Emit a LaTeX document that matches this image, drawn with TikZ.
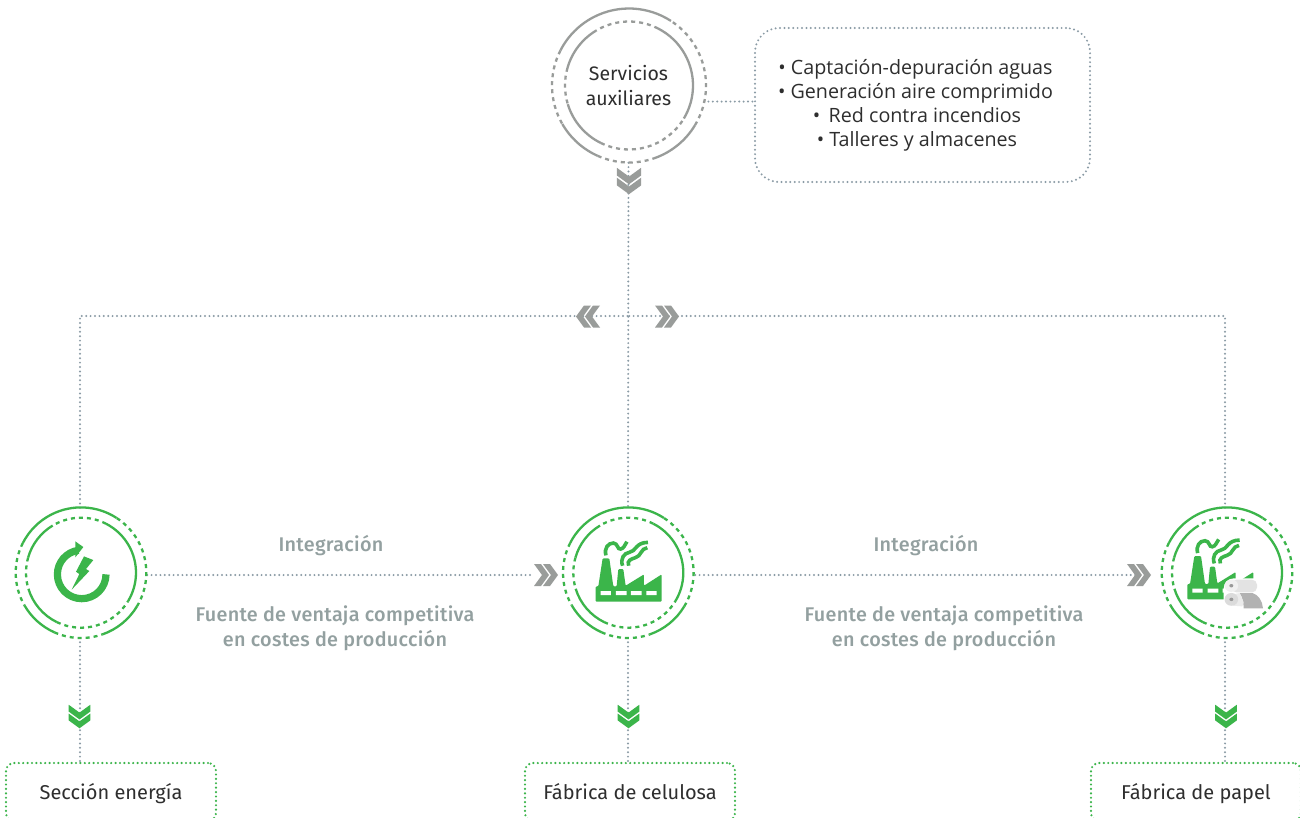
\documentclass[tikz,border=0pt]{standalone}
\usepackage{fontspec}
\setmainfont{Fira Sans}
\newfontfamily\listfont{Open Sans}
\newfontfamily\medfont[LetterSpace=1.5]{Fira Sans Medium}
\usetikzlibrary{calc}
\definecolor{gr}{HTML}{3BB54A}
\definecolor{gy}{HTML}{999C9A}
\definecolor{dotc}{HTML}{8A9BA5}
\definecolor{txt}{HTML}{2E2E2E}
\definecolor{soft}{HTML}{93A0A0}
\tikzset{
  dotgreen/.style={draw=gr,line width=2.4pt,line cap=round,dash pattern=on 0pt off 4.4pt},
  dotgrey/.style={draw=dotc,line width=2.2pt,line cap=round,dash pattern=on 0pt off 4.4pt},
  hub/.style={circle,minimum size=#1,inner sep=0pt},
  outbox/.style={dotgreen,rounded corners=8pt,minimum width=210pt,minimum height=58pt,inner sep=0pt,text=txt,text height=17pt,text depth=3pt,font=\fontsize{20}{24}\selectfont},
  softlabel/.style={text=soft,font=\medfont\fontsize{19.8}{25}\selectfont,align=center,inner sep=0pt},
}
% centre x, centre y, colour, outer r, inner r
\newcommand\ringset[5]{%
 \begin{scope}[shift={(#1,#2)},x=1pt,y=1pt,line width=2.3pt]
  \foreach \a/\b in {57/153,210/246,289/329}
    \draw[#3] ([shift={(\a:#4)}]0,0) arc[start angle=\a,end angle=\b,radius=#4];
  \foreach \a/\b in {153/210,246/289,329/417}
    \draw[#3,dash pattern=on 4pt off 4pt] ([shift={(\a:#4)}]0,0) arc[start angle=\a,end angle=\b,radius=#4];
  \foreach \a/\b in {-31/63,121/164,197/244}
    \draw[#3] ([shift={(\a:#5)}]0,0) arc[start angle=\a,end angle=\b,radius=#5];
  \foreach \a/\b in {63/121,164/197,244/329}
    \draw[#3,dash pattern=on 4pt off 4pt] ([shift={(\a:#5)}]0,0) arc[start angle=\a,end angle=\b,radius=#5];
 \end{scope}}
% x, y, rotation, colour, scale
\newcommand\dchev[5]{%
 \begin{scope}[shift={(#1,#2)},rotate=#3,scale=#5,x=1pt,y=1pt]
  \fill[#4] (-12,-11)--(-5,-11)--(3,0)--(-5,11)--(-12,11)--(-4,0)--cycle;
  \fill[#4] (-3,-11)--(4,-11)--(12,0)--(4,11)--(-3,11)--(5,0)--cycle;
 \end{scope}}
% factory drawn in zoomed units, relative to (295,233)
\newcommand\factory[2]{%
 \begin{scope}[shift={(#1,#2)},x=.3333pt,y=-.3333pt,shift={(-295,-233)}]
  \fill[gr,rounded corners=1pt] (197,320)--(197,274)--(205,274)--(218,190)--(238,190)--(250,274)--(260,274)--(265,222)--(280,222)--(287,272)--(342,238)--(342,272)--(395,238)--(395,320)--cycle;
  \fill[white] (212,288) rectangle (243,300) (258,288) rectangle (290,300) (303,288) rectangle (335,300) (349,288) rectangle (380,300);
  \draw[gr,line width=3.6pt] (228,181) .. controls (222,160) and (234,144) .. (250,144) .. controls (264,144) and (262,165) .. (272,162) .. controls (282,160) and (284,150) .. (291,140);
  \draw[gr,line width=3.6pt] (278,212) .. controls (270,192) and (282,174) .. (298,172) .. controls (318,170) and (316,142) .. (354,142);
  \draw[gr,line width=3.6pt] (296,212) .. controls (290,196) and (304,192) .. (316,188) .. controls (334,184) and (332,160) .. (352,158);
 \end{scope}}
\begin{document}
\begin{tikzpicture}[x=1pt,y=-1pt]
\clip (0,0) rectangle (1300,817);
\fill[white] (0,0) rectangle (1300,817);

% invisible hubs carrying the connectors
\node[hub=154pt,text=txt,align=center,font=\fontsize{19.5}{24.5}\selectfont] (S) at (628.5,85.5) {Servicios\\auxiliares};
\node[hub=134pt] (E) at (80,575) {};
\node[hub=134pt] (P) at (628,575) {};
\node[hub=134pt] (Q) at (1225,575) {};
\coordinate (J) at (628,316);

\node[dotgrey,rounded corners=24pt,minimum width=335pt,minimum height=154pt,inner sep=0pt] (B) at (922.5,105) {};
\node[text=txt,align=center,inner sep=0pt,font=\listfont\fontsize{19.7}{24}\selectfont,anchor=center] (Btext) at (915.5,105)
  {• Captación-depuración aguas\\• Generación aire comprimido\\\hspace*{3pt}•\, Red contra incendios\\\hspace*{3pt}• Talleres y almacenes};

\node[outbox] (O1) at (111,792) {Sección energía};
\node[outbox] (O2) at (630,792) {Fábrica de celulosa};
\node[outbox] (O3) at (1196,792) {Fábrica de papel};

% connectors
\draw[dotgrey] (S.south) -- (P.north);
\draw[dotgrey] (E.north) |- (J);
\draw[dotgrey] (Q.north) |- (J);
\draw[dotgrey] (S.-12) -- (S.-12 -| B.west);
\draw[dotgrey,shorten >=28pt] (E.east) -- (P.west);
\draw[dotgrey,shorten >=14pt] (P.east) -- (Q.west);
\draw[dotgrey] (E.south) -- (E.south |- O1.north);
\draw[dotgrey] (P.south) -- (P.south |- O2.north);
\draw[dotgrey] (Q.south) -- (Q.south |- O3.north);

% rings
\ringset{629}{85.5}{gy}{77}{64}
\ringset{81}{572.7}{gr}{65.3}{55}
\ringset{628.3}{572.7}{gr}{65.3}{55}
\ringset{1227}{572.7}{gr}{65.3}{55}

% chevrons
\dchev{629}{181}{-90}{gy}{1.1}
\dchev{546}{575}{0}{gy}{1.0}
\dchev{1139}{575}{0}{gy}{1.0}
\dchev{588}{316.5}{180}{gy}{1.0}
\dchev{667}{316.5}{0}{gy}{1.0}
\dchev{79.5}{716.5}{-90}{gr}{0.98}
\dchev{628.5}{716.5}{-90}{gr}{0.98}
\dchev{1226}{716.5}{-90}{gr}{0.98}

% energy icon
\begin{scope}[shift={(81,572.7)},x=.3333pt,y=-.3333pt,shift={(-243,-233)}]
  \draw[gr,line width=7.2pt] (318,238) arc[start angle=0,end angle=-262,radius=24.3pt];
  \fill[gr] (226,139)--(250,156)--(226,187)--cycle;
  \fill[gr] (252,184)--(280,195)--(258,222)--(268,228)--(215,284)--(238,237)--(228,230)--cycle;
\end{scope}

% factories
\factory{628.3}{572.7}
\factory{1220}{570.4}
\begin{scope}[shift={(1227,572.7)},x=.3333pt,y=-.3333pt,shift={(-322,-233)}]
  \fill[white,rounded corners=10pt] (312,250) rectangle (436,346);
  \fill[black!11,rounded corners=5pt] (335,254) rectangle (412,292);
  \fill[black!30] (360,294) -- (398,294) .. controls (416,298) and (428,318) .. (430,340) -- (372,340) .. controls (372,322) and (368,306) .. (360,294) -- cycle;
  \fill[black!6] (335,272) ellipse [x radius=6.8pt,y radius=6.2pt];
  \fill[black!40] (335,272) ellipse [x radius=2pt,y radius=1.7pt];
  \fill[black!8] (345,297) -- (360,294) -- (372,322) -- (368,334) -- (340,332) -- cycle;
  \fill[black!14] (335,313) ellipse [x radius=6.8pt,y radius=6.4pt];
  \fill[black!40] (335,313) ellipse [x radius=2pt,y radius=1.7pt];
\end{scope}

% labels
\node[softlabel] (L1) at (331,546) {Integración};
\node[softlabel] (L2) at (335,628.5) {Fuente de ventaja competitiva\\en costes de producción};
\node[softlabel] (L3) at (926,546) {Integración};
\node[softlabel] (L4) at (944,628.5) {Fuente de ventaja competitiva\\en costes de producción};
\end{tikzpicture}
\end{document}
